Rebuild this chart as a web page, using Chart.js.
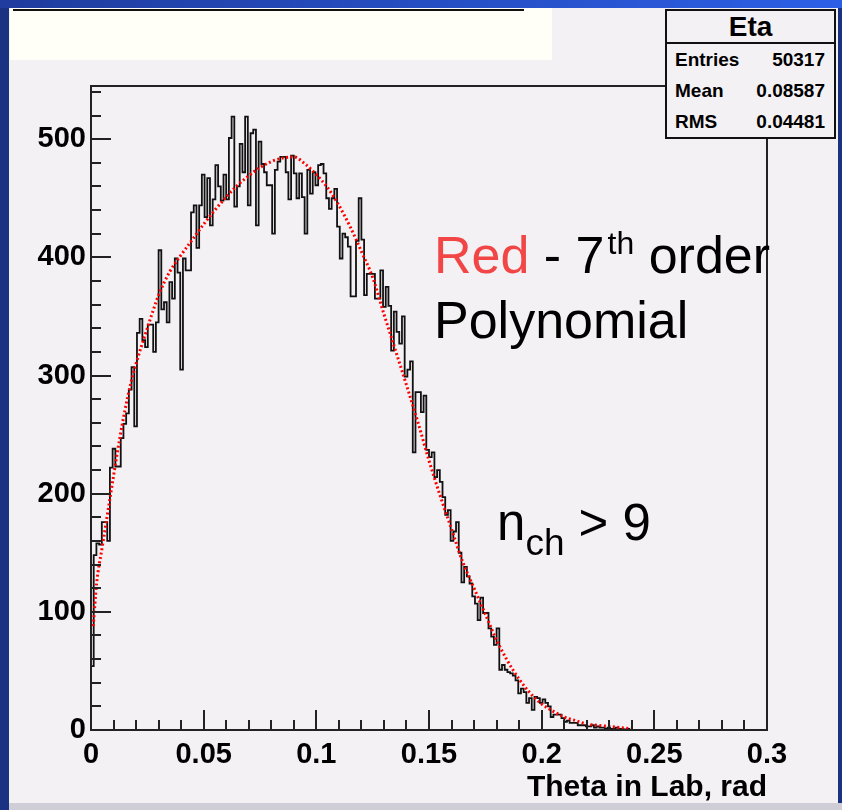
<!DOCTYPE html>
<html>
<head>
<meta charset="utf-8">
<title>Eta - Theta in Lab</title>
<script src="https://cdn.jsdelivr.net/npm/chart.js@4.4.0/dist/chart.umd.min.js"></script>
<style>
  html, body { margin: 0; padding: 0; }
  body {
    width: 842px; height: 810px; position: relative; overflow: hidden;
    background: #1b3283;
    font-family: "Liberation Sans", Arial, sans-serif;
  }
  #topStrip { position: absolute; left: 0; top: 0; width: 842px; height: 8px;
    background: linear-gradient(to right, #1f3c9e, #2c5fe6); }
  #panel { position: absolute; left: 9px; top: 8px; width: 829px; height: 795px; background: #f4f1f5; }
  #bottomStrip { position: absolute; left: 9px; top: 803px; width: 833px; height: 7px; background: #cfced6; }
  #titleBox { position: absolute; left: 10px; top: 8px; width: 542px; height: 52px; background: #fffff7; }
  #titleLine { position: absolute; left: 13px; top: 9px; width: 511px; height: 2px; background: #111; }
  #chartCanvas { position: absolute; left: 0; top: 0; }
  #stats {
    position: absolute; left: 665px; top: 9px; width: 171px; height: 130px;
    box-sizing: border-box; border: 2px solid #111; background: #f4f1f5;
    font-weight: bold; color: #000;
  }
  #stats .head { height: 31px; line-height: 31px; font-size: 28px; text-align: center;
    border-bottom: 2px solid #111; }
  #stats .row { height: 31px; line-height: 31px; font-size: 19px;
    display: flex; justify-content: space-between; padding: 0 9px 0 8px; }
  .note { position: absolute; white-space: nowrap; color: #000; line-height: 1; }
  .red { color: #f24646; }
  .up { position: relative; font-size: 32px; top: -19px; margin-left: 3px; }
  .down { position: relative; font-size: 37px; top: 15px; }
</style>
</head>
<body>
<div id="topStrip"></div>
<div id="panel"></div>
<div id="bottomStrip"></div>
<div id="titleBox"></div>
<div id="titleLine"></div>
<canvas id="chartCanvas" width="842" height="810"></canvas>
<div id="stats">
  <div class="head">Eta</div>
  <div class="row"><span>Entries</span><span>50317</span></div>
  <div class="row"><span>Mean</span><span>0.08587</span></div>
  <div class="row"><span>RMS</span><span>0.04481</span></div>
</div>
<div class="note" style="left:434px; top:229px; font-size:52px;"><span class="red">Red</span> - 7<span class="up">th</span> order</div>
<div class="note" style="left:434px; top:294px; font-size:52px;">Polynomial</div>
<div class="note" style="left:497px; top:497px; font-size:51px;">n<span class="down">ch</span> &gt; 9</div>

<script>
// largeur d'un bin de l'histogramme (rad)
const binWidth = 0.0012;

// contenu des bins (bin 0 commence a theta = 0)
const etaCounts = [
  54, 148, 158, 157, 176, 176, 160, 222, 238, 223,
  223, 247, 259, 268, 288, 307, 257, 336, 348, 330,
  324, 343, 343, 320, 345, 406, 356, 362, 345, 379,
  365, 399, 387, 305, 399, 389, 389, 438, 444, 408,
  444, 470, 434, 467, 427, 449, 478, 460, 448, 470,
  449, 501, 519, 443, 460, 496, 472, 519, 444, 505,
  508, 427, 498, 479, 472, 461, 461, 420, 474, 481,
  485, 485, 472, 449, 486, 471, 450, 471, 451, 420,
  474, 454, 472, 461, 478, 479, 471, 450, 441, 450,
  458, 426, 399, 420, 417, 409, 367, 367, 414, 450,
  415, 368, 386, 386, 386, 365, 365, 389, 358, 375,
  359, 321, 354, 337, 327, 350, 299, 305, 312, 235,
  286, 286, 269, 283, 237, 231, 235, 214, 220, 210,
  197, 182, 186, 160, 168, 176, 150, 125, 138, 130,
  124, 113, 107, 93, 112, 99, 99, 86, 79, 72,
  86, 51, 55, 51, 49, 48, 46, 42, 31, 35,
  32, 23, 27, 17, 28, 27, 23, 26, 23, 20,
  11, 13, 13, 13, 10, 7, 8, 6, 6, 6,
  4, 4, 4, 3, 3, 4, 2, 3, 2, 2,
  1, 2, 1, 1, 2, 1, 1, 0, 1, 0
];

// polynome d'ordre 7 (courbe rouge)
const fitTheta = [
  0.001, 0.0025, 0.005, 0.0075, 0.01, 0.0125, 0.015, 0.0175, 0.02, 0.025,
  0.03, 0.035, 0.04, 0.045, 0.05, 0.055, 0.06, 0.065, 0.07, 0.075,
  0.08, 0.085, 0.09, 0.095, 0.1, 0.105, 0.11, 0.115, 0.12, 0.125,
  0.13, 0.135, 0.14, 0.145, 0.15, 0.155, 0.16, 0.165, 0.17, 0.175,
  0.18, 0.185, 0.19, 0.195, 0.2, 0.205, 0.21, 0.215, 0.22, 0.225,
  0.23, 0.235, 0.24
];
const fitValues = [
  88, 124, 155, 185, 215, 244, 270, 292, 310, 340,
  368, 388, 402, 415, 428, 440, 451, 461, 469, 476,
  481, 484, 485, 479, 470, 459, 444, 426, 405, 383,
  352, 322, 292, 261, 228, 198, 170, 142, 120, 98,
  76, 58, 43, 31, 22, 16, 11, 8, 5, 4,
  3, 2, 1
];

const xMax = 0.3;
const yMax = 545;
const xStep = 0.05;
const yStep = 100;

Chart.defaults.font.family = '"Liberation Sans", Arial, sans-serif';

let histPoints = etaCounts.map(function (c, i) { return {x: i * binWidth, y: c}; });
histPoints.push({x: etaCounts.length * binWidth, y: 0});

let fitPoints = fitTheta.map(function (t, i) { return {x: t, y: fitValues[i]}; });

/**
 * Cadre et graduations facon ROOT (graduations vers l'interieur)
 */
const rootFrame = {
  id: 'rootFrame',
  afterDatasetsDraw(chart) {
    const ctx = chart.ctx;
    const a = chart.chartArea;
    const x = chart.scales.x;
    const y = chart.scales.y;
    ctx.save();
    ctx.strokeStyle = '#222';
    ctx.lineWidth = 2;
    ctx.strokeRect(a.left, a.top, a.right - a.left, a.bottom - a.top);
    ctx.beginPath();
    for (let k = 0; k <= 30; k++) {
      let px = Math.round(x.getPixelForValue(k * 0.01));
      let len = (k % 5 === 0) ? 20 : 10;
      ctx.moveTo(px, a.bottom);
      ctx.lineTo(px, a.bottom - len);
    }
    for (let v = 0; v <= 540; v += 20) {
      let py = Math.round(y.getPixelForValue(v));
      let len = (v % 100 === 0) ? 20 : 10;
      ctx.moveTo(a.left, py);
      ctx.lineTo(a.left + len, py);
    }
    ctx.stroke();
    ctx.restore();
  }
};

let ctx = document.getElementById('chartCanvas').getContext('2d');
let chart = new Chart(ctx, {
  type: 'line',
  data: {
    datasets: [{
      label: 'fit',
      data: fitPoints,
      borderColor: '#ff0000',
      borderWidth: 3,
      borderDash: [2, 2.5],
      pointRadius: 0,
      fill: false,
      cubicInterpolationMode: 'monotone'
    }, {
      label: 'Eta',
      data: histPoints,
      stepped: true,
      borderColor: '#111',
      borderWidth: 1.8,
      pointRadius: 0,
      fill: false
    }]
  },
  options: {
    responsive: false,
    devicePixelRatio: 1,
    animation: false,
    layout: { padding: { top: 86, right: 75, left: 0, bottom: 0 } },
    plugins: { legend: { display: false }, tooltip: { enabled: false } },
    scales: {
      x: {
        type: 'linear',
        min: 0,
        max: xMax,
        grid: { display: false, drawTicks: false },
        border: { display: false },
        ticks: {
          stepSize: xStep,
          padding: 8,
          color: '#000',
          maxRotation: 0,
          font: { size: 29, weight: 'bold' },
          callback: function (v) { return String(+v.toFixed(2)); }
        },
        title: {
          display: true,
          text: 'Theta in Lab, rad',
          align: 'end',
          color: '#000',
          font: { size: 30, weight: 'bold' },
          padding: { top: 0, bottom: 4 }
        },
        afterFit: function (scale) { scale.height = 80; }
      },
      y: {
        type: 'linear',
        min: 0,
        max: yMax,
        grid: { display: false, drawTicks: false },
        border: { display: false },
        ticks: {
          stepSize: yStep,
          includeBounds: false,
          padding: 5,
          color: '#000',
          font: { size: 29, weight: 'bold' }
        },
        afterFit: function (scale) { scale.width = 91; }
      }
    }
  },
  plugins: [rootFrame]
});
</script>
</body>
</html>
